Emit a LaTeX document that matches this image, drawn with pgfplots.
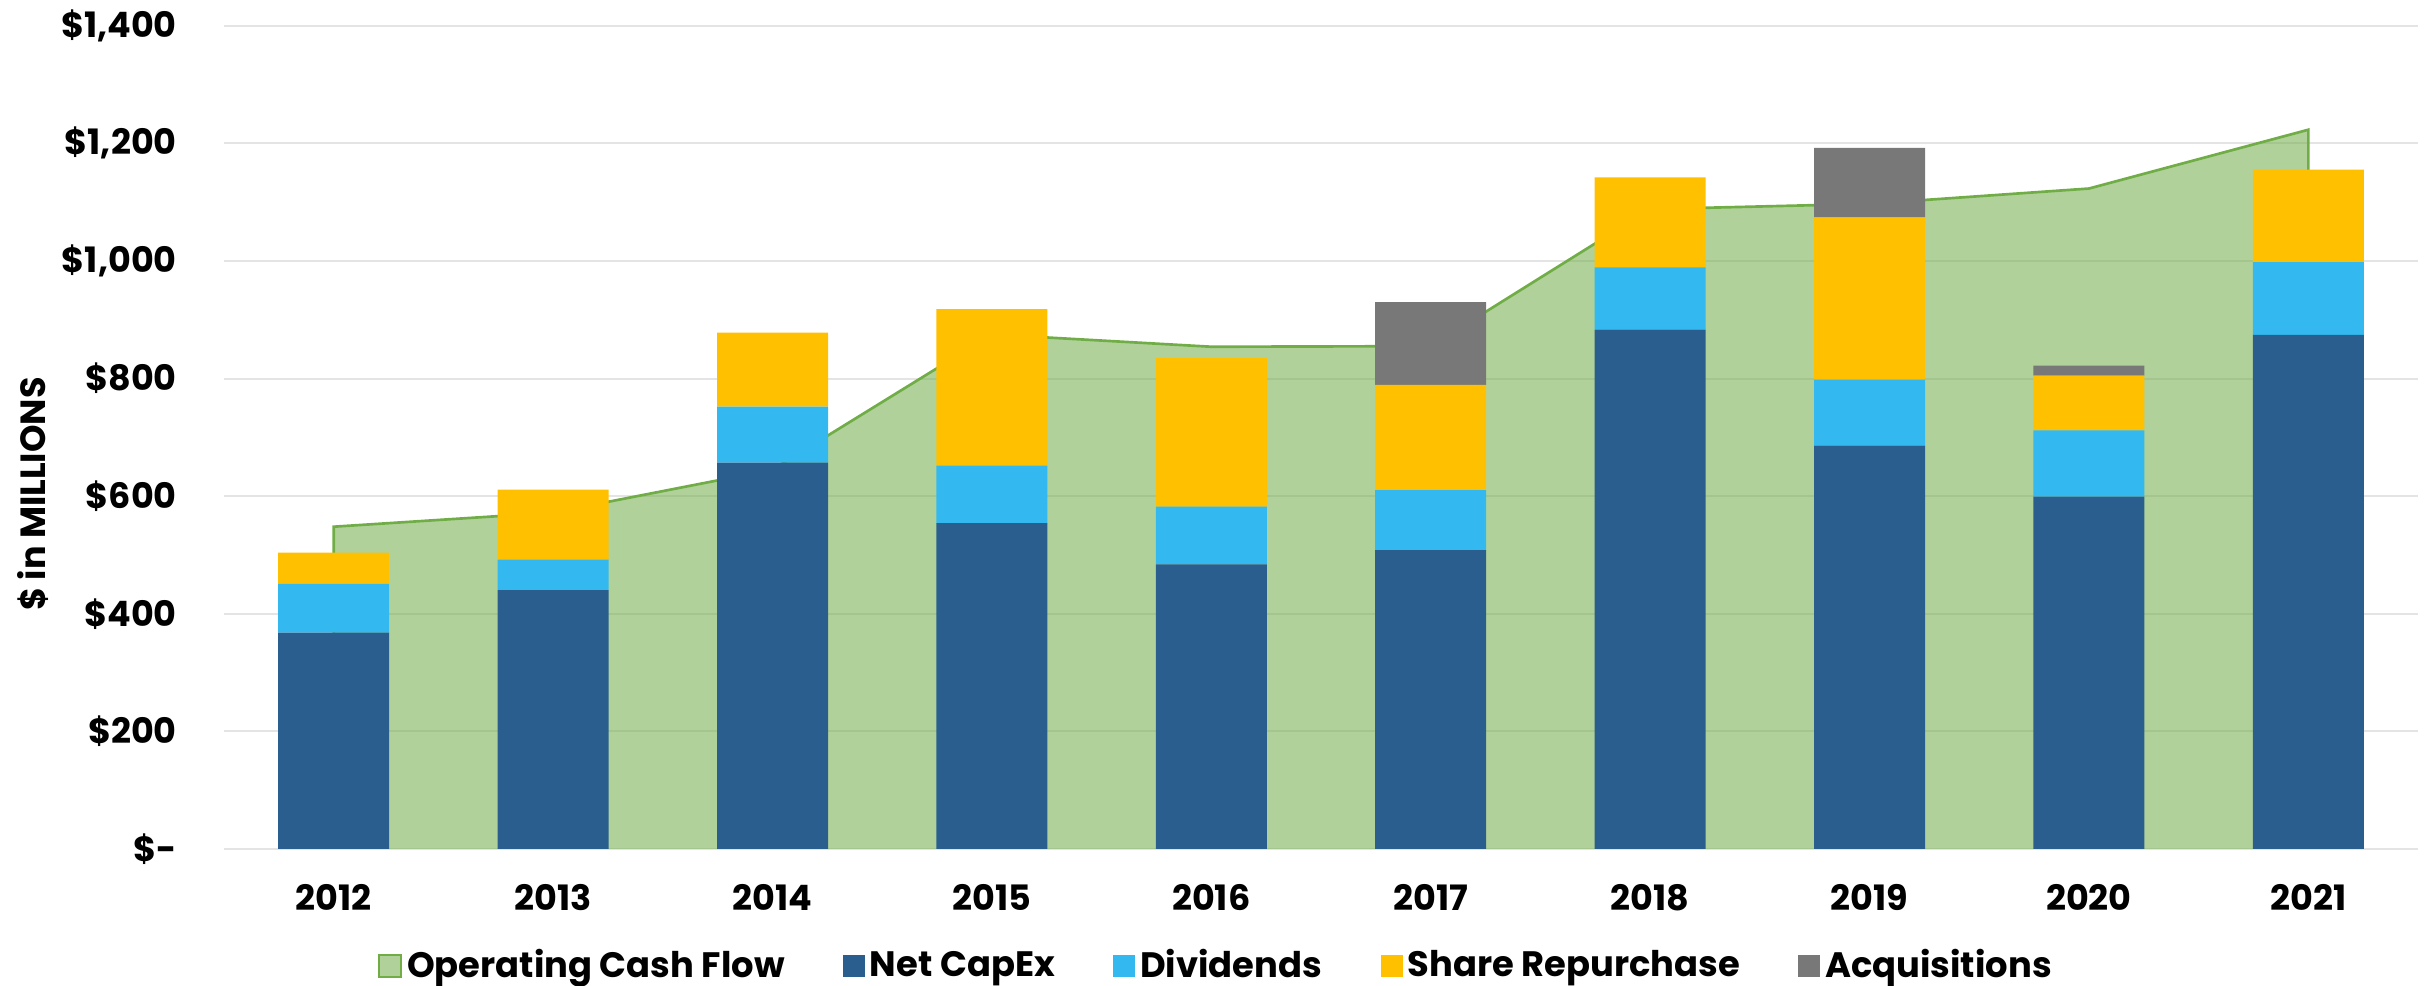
\documentclass[border=0pt]{standalone}
\usepackage{pgfplots}
\pgfplotsset{compat=1.18}
\usepackage{fontspec}
\setmainfont{Poppins}
\definecolor{ocfline}{HTML}{70AD47}
\definecolor{capex}{HTML}{2A5E8F}
\definecolor{divc}{HTML}{33B9EF}
\definecolor{repc}{HTML}{FFC000}
\definecolor{acqc}{HTML}{787878}
\definecolor{gridc}{HTML}{E4E4E4}
\begin{document}
\begin{tikzpicture}[x=1pt,y=1pt]
\useasboundingbox (0,0) rectangle (727.5,295.8);
% background axis: grid, area, ticks
\begin{axis}[
  at={(67.2pt,41.1pt)}, anchor=south west, scale only axis,
  width=658.2pt, height=247pt,
  xmin=-0.5, xmax=9.5, ymin=0, ymax=1400,
  axis line style={draw=none}, major tick length=0pt,
  ymajorgrids, grid style={gridc, line width=0.6pt},
  ytick={0,200,400,600,800,1000,1200,1400},
  yticklabels={{\$-},{\$200},{\$400},{\$600},{\$800},{\$1,000},{\$1,200},{\$1,400}},
  xtick={0,1,2,3,4,5,6,7,8,9},
  xticklabels={2012,2013,2014,2015,2016,2017,2018,2019,2020,2021},
  ticklabel style={font=\bfseries\fontsize{10.5}{12}\selectfont},
  yticklabel style={anchor=east, inner sep=0pt, xshift=-14pt},
  xticklabel style={anchor=north, inner sep=0pt, yshift=-10.5pt},
]
\addplot[fill=ocfline, fill opacity=0.55, draw=none] coordinates {
 (0,548) (1,572) (2,645) (3,875) (4,854) (5,855) (6,1088) (7,1097) (8,1123) (9,1223)} \closedcycle;
\addplot[ocfline, line width=0.8pt] coordinates {
 (0,0) (0,548) (1,572) (2,645) (3,875) (4,854) (5,855) (6,1088) (7,1097) (8,1123) (9,1223) (9,0)};
\end{axis}
% foreground axis: stacked bars and legend
\begin{axis}[
  at={(67.2pt,41.1pt)}, anchor=south west, scale only axis,
  width=658.2pt, height=247pt,
  xmin=-0.5, xmax=9.5, ymin=0, ymax=1400,
  hide axis,
  ybar stacked, bar width=33.3pt,
  legend image code/.code={\fill[#1] (0pt,-3.3pt) rectangle (6.6pt,3.3pt);},
  legend style={at={(0.4528,-0.1421)}, anchor=center, draw=none, fill=none,
    legend columns=-1, font=\bfseries\fontsize{10.6}{12}\selectfont,
    /tikz/every even column/.append style={column sep=16pt},
    nodes={inner sep=1.5pt}},
]
\addlegendimage{fill=ocfline!55!white, draw=ocfline, line width=0.6pt}
\addlegendentry{Operating Cash Flow}
\addplot[fill=capex, draw=none] coordinates {
 (0,368) (1,440) (2,657) (3,554) (4,484) (5,508) (6,883) (7,686) (8,599) (9,874)};
\addlegendentry{Net CapEx}
\addplot[fill=divc, draw=none] coordinates {
 (0,83) (1,52) (2,95) (3,98) (4,98) (5,102) (6,106) (7,112) (8,113) (9,124)};
\addlegendentry{Dividends}
\addplot[fill=repc, draw=none] coordinates {
 (0,53) (1,119) (2,126) (3,266) (4,253) (5,179) (6,153) (7,276) (8,93) (9,157)};
\addlegendentry{Share Repurchase}
\addplot[fill=acqc, draw=none] coordinates {
 (0,0) (1,0) (2,0) (3,0) (4,0) (5,141) (6,0) (7,118) (8,17) (9,0)};
\addlegendentry{Acquisitions}
\end{axis}
\node[rotate=90, font=\bfseries\fontsize{10.5}{12}\selectfont] at (9.9,147.6) {\$ in MILLIONS};
\end{tikzpicture}
\end{document}
